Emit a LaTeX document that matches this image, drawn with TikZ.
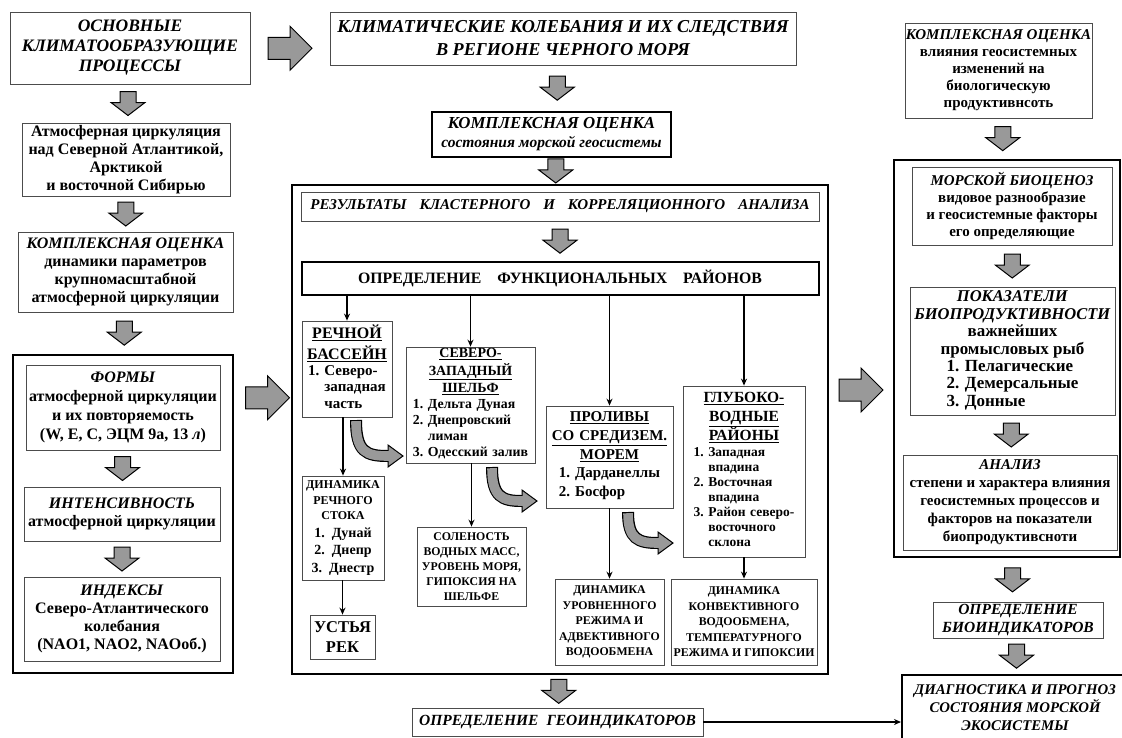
\documentclass[tikz,border=0pt]{standalone}
\usepackage{fontspec}
\setmainfont{Liberation Serif}
\usetikzlibrary{calc,arrows.meta}
\newcommand\fs[2]{\fontsize{#1}{#2}\selectfont}
\begin{document}
\begin{tikzpicture}[x=1pt,y=-1pt,
  box/.style={draw=black!70, line width=0.8pt, fill=white, align=center, inner sep=1pt, font=\bfseries\fs{16}{18}},
  tbox/.style={box, draw=black, line width=2pt},
  bigbox/.style={draw=black, line width=2.2pt, inner sep=0pt},
  thin/.style={line width=1.2pt, -{Stealth[length=7pt,width=6pt]}},
  darr/.pic={\draw[fill=black!40, line width=1pt, line join=miter] (-8,-12) -- (8,-12) -- (8,-1) -- (17,-1) -- (0,12) -- (-17,-1) -- (-8,-1) -- cycle;},
  rarr/.pic={\draw[fill=black!40, line width=1pt, line join=miter] (-22,-11) -- (0,-11) -- (0,-22) -- (22,0) -- (0,22) -- (0,11) -- (-22,11) -- cycle;}
]
\useasboundingbox (0,0) rectangle (1122,737);
\fill[white] (0,0) rectangle (1122,737);

% ---------- big frames ----------
\node[bigbox, minimum width=220, minimum height=318] (bigL) at (123,514) {};
\node[bigbox, minimum width=536, minimum height=489] (bigM) at (560,429.5) {};
\node[bigbox, minimum width=226, minimum height=397] (bigR) at (1007,358.5) {};

% ---------- left column ----------
\node[box, minimum width=240, minimum height=72, font=\bfseries\itshape\fs{17.5}{20}] (b1) at (130,48)
  {ОСНОВНЫЕ\\КЛИМАТООБРАЗУЮЩИЕ\\ПРОЦЕССЫ};
\node[box, minimum width=208, minimum height=73] (b2) at (126,159.5)
  {Атмосферная циркуляция\\над Северной Атлантикой,\\Арктикой\\и восточной Сибирью};
\node[box, minimum width=215, minimum height=80] (b3) at (125.5,272)
  {\textit{КОМПЛЕКСНАЯ ОЦЕНКА}\\динамики параметров\\крупномасштабной\\атмосферной циркуляции};
\node[box, minimum width=194, minimum height=85, font=\bfseries\fs{16}{19}] (forms) at (123,407.5)
  {\textit{ФОРМЫ}\\атмосферной циркуляции\\и их повторяемость\\(W, E, C, ЭЦМ 9а, 13 \textit{л})};
\node[box, minimum width=196, minimum height=54] (intens) at (122,514)
  {\textit{ИНТЕНСИВНОСТЬ}\\атмосферной циркуляции};
\node[box, minimum width=196, minimum height=84] (index) at (122,619)
  {\textit{ИНДЕКСЫ}\\Северо-Атлантического\\колебания\\(NAO1, NAO2, NAOоб.)};

\pic at ($(b1.south)!0.5!(b2.north)$) {darr};
\pic at ($(b2.south)!0.5!(b3.north)$) {darr};
\pic at ($(b3.south)!0.5!(bigL.north)$) {darr};
\pic at ($(forms.south)!0.5!(intens.north)$) {darr};
\pic at ($(intens.south)!0.5!(index.north)$) {darr};

% ---------- middle column ----------
\node[box, minimum width=466, minimum height=53, font=\bfseries\itshape\fs{18.2}{23}] (m1) at (563,38.5)
  {КЛИМАТИЧЕСКИЕ КОЛЕБАНИЯ И ИХ СЛЕДСТВИЯ\\В РЕГИОНЕ ЧЕРНОГО МОРЯ};
\node[tbox, minimum width=239, minimum height=45, font=\bfseries\itshape\fs{16.8}{19}] (m2) at (551.5,134.5)
  {КОМПЛЕКСНАЯ ОЦЕНКА\\{\fs{15.5}{17}состояния морской геосистемы}};
\node[box, minimum width=518, minimum height=29, font=\bfseries\itshape\fs{15}{17}] (rez) at (560,206.5)
  {РЕЗУЛЬТАТЫ\hspace{13pt}КЛАСТЕРНОГО\hspace{13pt}И\hspace{13pt}КОРРЕЛЯЦИОННОГО\hspace{13pt}АНАЛИЗА};
\node[tbox, minimum width=517, minimum height=33, font=\bfseries\fs{15.8}{18}] (opr) at (560,278.5)
  {ОПРЕДЕЛЕНИЕ\hspace{16pt}ФУНКЦИОНАЛЬНЫХ\hspace{16pt}РАЙОНОВ};

\node[box, minimum width=90, minimum height=96, text width=86, font=\bfseries\fs{15}{16.5}] (rech) at (347,369)
  {{\fs{16}{21}\underline{РЕЧНОЙ}\\\underline{БАССЕЙН}\par}\vspace{1pt}
   \begin{tabular}{@{}l@{\ }l@{}}1.&Северо-\\&западная\\&часть\end{tabular}};
\node[box, minimum width=129, minimum height=116, text width=125, font=\bfseries\fs{13.8}{16}] (sev) at (470.5,405)
  {{\fs{14}{17.5}\underline{СЕВЕРО-}\\\underline{ЗАПАДНЫЙ}\\\underline{ШЕЛЬФ}\par}\vspace{2pt}
   \begin{tabular}{@{}l@{\ }l@{}}1.&Дельта Дуная\\2.&Днепровский\\&лиман\\3.&Одесский залив\end{tabular}};
\node[box, minimum width=127, minimum height=102, text width=123, font=\bfseries\fs{15}{19}] (prol) at (609.5,457)
  {\underline{ПРОЛИВЫ}\\\underline{СО СРЕДИЗЕМ.}\\\underline{МОРЕМ}\par\vspace{2pt}
   \begin{tabular}{@{}l@{\ }l@{}}1.&Дарданеллы\\2.&Босфор\end{tabular}};
\node[box, minimum width=122, minimum height=171, text width=118, font=\bfseries\fs{13.5}{15}] (glub) at (744,471.5)
  {{\fs{15.5}{19}\underline{ГЛУБОКО-}\\\underline{ВОДНЫЕ}\\\underline{РАЙОНЫ}\par}\vspace{2pt}
   \begin{tabular}{@{}l@{\ }l@{}}1.&Западная\\&впадина\\2.&Восточная\\&впадина\\3.&Район северо-\\&восточного\\&склона\end{tabular}};
\node[box, minimum width=82, minimum height=104, text width=78, font=\bfseries\fs{14}{17.5}] (dinr) at (343,528)
  {{\fs{12}{15.5}ДИНАМИКА\\РЕЧНОГО\\СТОКА\par}1. Дунай\\2. Днепр\\3. Днестр};
\node[box, minimum width=65, minimum height=44, font=\bfseries\fs{16.5}{20}] (ust) at (342.5,637)
  {УСТЬЯ\\РЕК};
\node[box, minimum width=109, minimum height=79, font=\bfseries\fs{11.8}{15}] (sol) at (471.5,566.5)
  {СОЛЕНОСТЬ\\ВОДНЫХ МАСС,\\УРОВЕНЬ МОРЯ,\\ГИПОКСИЯ НА\\ШЕЛЬФЕ};
\node[box, minimum width=109, minimum height=86, font=\bfseries\fs{11.8}{15.5}] (dinu) at (609.5,622)
  {ДИНАМИКА\\УРОВНЕННОГО\\РЕЖИМА И\\АДВЕКТИВНОГО\\ВОДООБМЕНА};
\node[box, minimum width=146, minimum height=86, font=\bfseries\fs{11.8}{15.5}] (dink) at (744,622)
  {ДИНАМИКА\\КОНВЕКТИВНОГО\\ВОДООБМЕНА,\\ТЕМПЕРАТУРНОГО\\РЕЖИМА И ГИПОКСИИ};
\node[box, minimum width=291, minimum height=28, font=\bfseries\itshape\fs{15.5}{18}] (geo) at (557.5,722)
  {ОПРЕДЕЛЕНИЕ\hspace{8pt}ГЕОИНДИКАТОРОВ};

\pic at ($(m1.south)!0.5!(m2.north)$) {darr};
\pic at ($(m2.south)!0.5!(bigM.north)$) {darr};
\pic at ($(rez.south)!0.5!(opr.north)$) {darr};
\pic at ($(bigM.south)!0.5!(geo.north)$) {darr};

\draw[thin] (opr.south -| rech) -- (rech.north);
\draw[thin] (opr.south -| sev) -- (sev.north);
\draw[thin] (opr.south -| prol) -- (prol.north);
\draw[thin] (opr.south -| glub) -- (glub.north);
\draw[thin] (rech.south -| dinr) -- (dinr.north);
\draw[thin] (dinr.south -| ust) -- (ust.north);
\draw[thin] (sev.south -| sol) -- (sol.north);
\draw[thin] (prol.south -| dinu) -- (dinu.north);
\draw[thin] (glub.south -| dink) -- (dink.north);

% curved block arrows
\foreach \sx/\sy/\ex/\ey in {356/420/388/456, 492/467/522/501, 628/512/658/543}{
  \draw[line width=12pt, black] (\sx,\sy) .. controls (\sx,\ey-4) and (\sx+10,\ey) .. (\ex,\ey);
  \filldraw[fill=black!40, line width=1pt, line join=miter] (\ex,\ey-11) -- (\ex+15,\ey) -- (\ex,\ey+11) -- cycle;
  \draw[line width=9.6pt, black!40, shorten <=1.2pt] (\sx,\sy) .. controls (\sx,\ey-4) and (\sx+10,\ey) .. (\ex,\ey) -- (\ex+3,\ey);
}

% ---------- right column ----------
\node[box, minimum width=179, minimum height=95, font=\bfseries\fs{15}{17}] (r1) at (998.5,70.5)
  {\textit{КОМПЛЕКСНАЯ ОЦЕНКА}\\влияния геосистемных\\изменений на\\биологическую\\продуктивнсоть};
\node[box, minimum width=200, minimum height=78, font=\bfseries\fs{15}{17}] (mor) at (1012,206)
  {\textit{МОРСКОЙ БИОЦЕНОЗ}\\видовое разнообразие\\и геосистемные факторы\\его определяющие};
\node[box, minimum width=205, minimum height=128, font=\bfseries\fs{17}{17.5}] (pok) at (1012.5,351)
  {\textit{\fs{16.5}{17.5}ПОКАЗАТЕЛИ}\\\textit{\fs{16.5}{17.5}БИОПРОДУКТИВНОСТИ}\\важнейших\\промысловых рыб\\
   \begin{tabular}{@{}l@{}}1. Пелагические\\2. Демерсальные\\3. Донные\end{tabular}};
\node[box, minimum width=214, minimum height=95, font=\bfseries\fs{15}{18}] (anal) at (1010,502.5)
  {\textit{АНАЛИЗ}\\степени и характера влияния\\геосистемных процессов и\\факторов на показатели\\биопродуктивсноти};
\node[box, minimum width=170, minimum height=36, font=\bfseries\itshape\fs{15.5}{18}] (bio) at (1018,620)
  {ОПРЕДЕЛЕНИЕ\\БИОИНДИКАТОРОВ};
\node[tbox, minimum width=226, minimum height=66, font=\bfseries\itshape\fs{14.8}{18}] (diag) at (1015,708)
  {ДИАГНОСТИКА И ПРОГНОЗ\\СОСТОЯНИЯ МОРСКОЙ\\ЭКОСИСТЕМЫ};

\pic at ($(r1.south)!0.5!(bigR.north)$) {darr};
\pic at ($(mor.south)!0.5!(pok.north)$) {darr};
\pic at ($(pok.south)!0.5!(anal.north)$) {darr};
\pic at ($(bigR.south)!0.5!(bio.north)$) {darr};
\pic at ($(bio.south)!0.5!(diag.north)$) {darr};

\draw[thin] (geo.east) -- (geo.east -| diag.west);

% ---------- horizontal block arrows ----------
\pic at ($(b1.east)!0.5!(m1.west)+(0,5)$) {rarr};
\pic at ($(bigL.east)!0.5!(bigM.west)+(5,-74)$) {rarr};
\pic at ($(bigM.east)!0.5!(bigR.west)+(0,-4)$) {rarr};
\end{tikzpicture}
\end{document}
